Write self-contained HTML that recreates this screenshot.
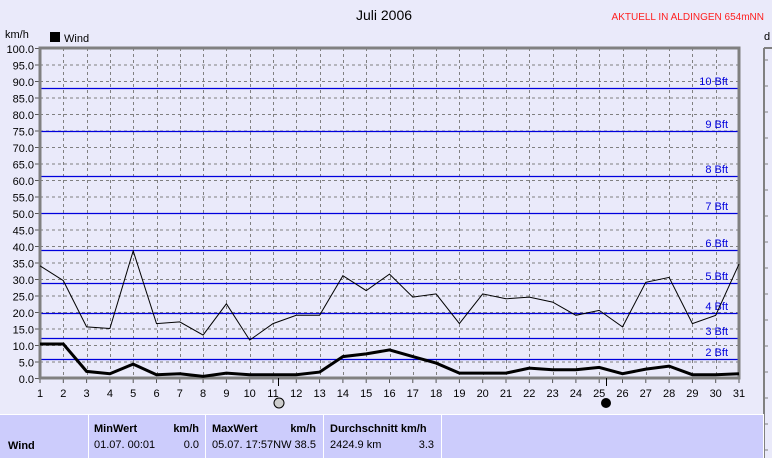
<!DOCTYPE html>
<html><head><meta charset="utf-8"><style>
body{margin:0;background:#eaeafa;width:772px;height:458px;overflow:hidden;font-family:"Liberation Sans",sans-serif}
svg{position:absolute;left:0;top:0}
</style></head><body>
<svg id="s" width="772" height="458" xmlns="http://www.w3.org/2000/svg" font-family="Liberation Sans, sans-serif">
<rect width="772" height="458" fill="#eaeafa"/>
<text x="384" y="20" font-size="14" text-anchor="middle" fill="#000">Juli 2006</text>
<text x="764" y="20" font-size="10" text-anchor="end" fill="#ff2020">AKTUELL IN ALDINGEN 654mNN</text>
<text x="5" y="38" font-size="11" fill="#000">km/h</text>
<rect x="50" y="32" width="10" height="10" fill="#000"/>
<text x="64" y="42" font-size="11" fill="#000">Wind</text>
<text x="764" y="40" font-size="11" fill="#000">d</text>
<g id="g"></g>
<!-- table -->
<rect x="0" y="414" width="764" height="44" fill="#ccccfc"/>
<line x1="0" y1="414.5" x2="764" y2="414.5" stroke="#fff"/>
<line x1="88.5" y1="414" x2="88.5" y2="458" stroke="#fff"/>
<line x1="205.5" y1="414" x2="205.5" y2="458" stroke="#fff"/>
<line x1="323.5" y1="414" x2="323.5" y2="458" stroke="#fff"/>
<line x1="441.5" y1="414" x2="441.5" y2="458" stroke="#fff"/>
<line x1="763.5" y1="414" x2="763.5" y2="458" stroke="#fff"/>
<g font-size="11" fill="#000">
<text x="8" y="449" font-weight="bold">Wind</text>
<text x="94" y="432" font-weight="bold">MinWert</text>
<text x="199" y="432" font-weight="bold" text-anchor="end">km/h</text>
<text x="94" y="448">01.07.  00:01</text>
<text x="199" y="448" text-anchor="end">0.0</text>
<text x="212" y="432" font-weight="bold">MaxWert</text>
<text x="316" y="432" font-weight="bold" text-anchor="end">km/h</text>
<text x="212" y="448">05.07.  17:57NW 38.5</text>
<text x="330" y="432" font-weight="bold">Durchschnitt km/h</text>
<text x="330" y="448">2424.9 km</text>
<text x="434" y="448" text-anchor="end">3.3</text>
</g>
</svg>
<script>
var g=document.getElementById('g'),h='';
function X(d){return 40+(d-1)*23.3}
function Y(v){return 378-3.3*v}
// grid
for(var v=5;v<100;v+=5){h+='<line x1="40" x2="739" y1="'+(Y(v)+.5)+'" y2="'+(Y(v)+.5)+'" stroke="#808080" stroke-dasharray="3,3"/>';}
for(var d=2;d<31;d++){h+='<line y1="48" y2="378" x1="'+(Math.round(X(d))+.5)+'" x2="'+(Math.round(X(d))+.5)+'" stroke="#808080" stroke-dasharray="3,3"/>';}
// beaufort
var bf=[[2,359],[3,338],[4,313],[5,283],[6,250],[7,213],[8,176],[9,131],[10,88]];
bf.forEach(function(b){h+='<line x1="40" x2="739" y1="'+(b[1]+.5)+'" y2="'+(b[1]+.5)+'" stroke="#0000dd" stroke-width="1.2"/>';
h+='<text x="728" y="'+(b[1]-3)+'" font-size="11" fill="#0000dd" text-anchor="end">'+b[0]+' Bft</text>';});
// axis labels
for(var v=0;v<=100;v+=5){h+='<text x="34" y="'+(Y(v)+5)+'" font-size="11" text-anchor="end">'+v.toFixed(1)+'</text>';
h+='<line x1="35" x2="40" y1="'+(Y(v)+.5)+'" y2="'+(Y(v)+.5)+'" stroke="#555"/>';}
for(var d=1;d<=31;d++){h+='<text x="'+X(d)+'" y="397" font-size="11" text-anchor="middle">'+d+'</text>';
h+='<line x1="'+X(d)+'" x2="'+X(d)+'" y1="378" y2="383" stroke="#555"/>';}
// frame
h+='<path d="M40,378 V48 H739 V378 Z" fill="none" stroke="#808080" stroke-width="3"/>';
// right axis
h+='<line x1="764" x2="764" y1="48" y2="458" stroke="#808080" stroke-width="2"/><line x1="764" x2="772" y1="48" y2="48" stroke="#808080" stroke-width="2"/>';
for(var y=60;y<458;y+=26){h+='<line x1="764" x2="768" y1="'+y+'" y2="'+y+'" stroke="#808080"/>';}
var mx=[34,29.5,15.5,15,38.5,16.5,17,13,22.5,11.5,16.5,19,19,31,26.5,31.5,24.5,25.5,16.5,25.5,24,24.5,23,19,20.5,15.5,29,30.5,16.5,19,34.5];
var av=[10.3,10.3,2,1.3,4.2,1,1.3,0.5,1.5,1,1,1,1.8,6.5,7.3,8.5,6.5,4.5,1.5,1.5,1.5,3,2.5,2.5,3.2,1.3,2.7,3.6,1,1,1.3];
function pl(a,w){return '<polyline fill="none" stroke="#000" stroke-width="'+w+'" points="'+a.map(function(v,i){return X(i+1).toFixed(1)+','+Y(v).toFixed(1)}).join(' ')+'"/>';}
h+=pl(mx,1)+pl(av,3);
// moons
h+='<line x1="278.5" x2="278.5" y1="378" y2="386" stroke="#000"/><circle cx="279" cy="403" r="5" fill="#ccc" stroke="#000"/>';
h+='<line x1="606.5" x2="606.5" y1="378" y2="386" stroke="#000"/><circle cx="606" cy="403" r="5" fill="#000"/>';
g.innerHTML=h;
</script>
</body></html>
